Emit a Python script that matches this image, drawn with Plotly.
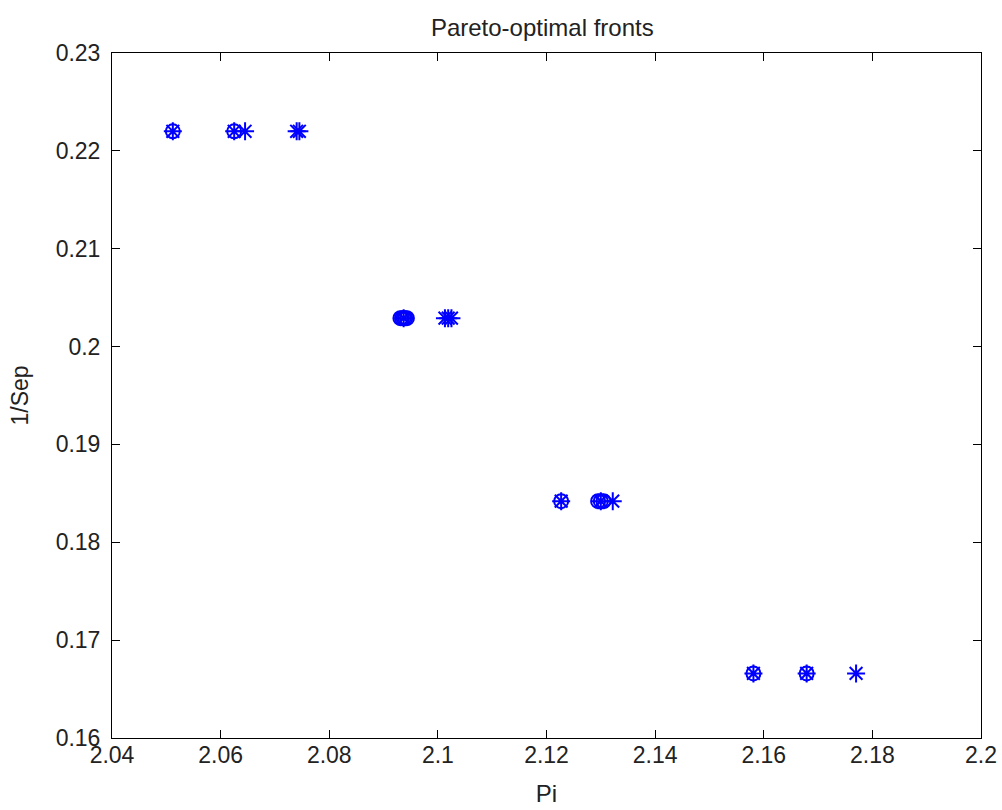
import plotly.graph_objects as go

# Circle-marker points (Pareto fronts, 'o')
circ_x = [2.0512, 2.0625, 2.0931, 2.0934, 2.0937, 2.0940, 2.0943, 2.1227, 2.1295, 2.1300, 2.1305, 2.1581, 2.1679]
circ_y = [0.2220, 0.2220, 0.2029, 0.2029, 0.2029, 0.2029, 0.2029, 0.1842, 0.1842, 0.1842, 0.1842, 0.1666, 0.1666]

# Asterisk-marker points ('*')
star_x = [2.0512, 2.0625, 2.0645, 2.0740, 2.0745, 2.0937, 2.1013, 2.1019, 2.1025, 2.1227, 2.1300, 2.1322, 2.1581, 2.1679, 2.1770]
star_y = [0.2220, 0.2220, 0.2220, 0.2220, 0.2220, 0.2029, 0.2029, 0.2029, 0.2029, 0.1842, 0.1842, 0.1842, 0.1666, 0.1666, 0.1666]

x_ticks = [2.04, 2.06, 2.08, 2.1, 2.12, 2.14, 2.16, 2.18, 2.2]
x_labels = ["2.04", "2.06", "2.08", "2.1", "2.12", "2.14", "2.16", "2.18", "2.2"]
y_ticks = [0.16, 0.17, 0.18, 0.19, 0.2, 0.21, 0.22, 0.23]
y_labels = ["0.16", "0.17", "0.18", "0.19", "0.2", "0.21", "0.22", "0.23"]

FONT = "Liberation Sans, Arial"

fig = go.Figure()
fig.add_trace(go.Scatter(x=circ_x, y=circ_y, mode="markers",
                         marker=dict(symbol="circle-open", size=14, color="#0000ff",
                                     line=dict(width=2, color="#0000ff")),
                         showlegend=False))
fig.add_trace(go.Scatter(x=star_x, y=star_y, mode="markers",
                         marker=dict(symbol="asterisk-open", size=15, color="#0000ff",
                                     line=dict(width=2, color="#0000ff")),
                         showlegend=False))

axis_common = dict(showgrid=False, zeroline=False, showline=True, linecolor="black",
                   linewidth=1, mirror="ticks", ticks="inside", ticklen=8, automargin=False,
                   tickcolor="black", tickfont=dict(family=FONT, size=23, color="#222"))

fig.update_layout(
    width=1002, height=810,
    margin=dict(l=112, r=21, t=53, b=72),
    paper_bgcolor="white", plot_bgcolor="white",
    title=dict(text="Pareto-optimal fronts", x=0.5412, xanchor="center", y=0.966, yanchor="middle",
               font=dict(family=FONT, size=24, color="#222")),
    xaxis=dict(range=[2.04, 2.2], tickvals=x_ticks, ticktext=x_labels, ticklabelstandoff=-4,
               title=dict(text="Pi", font=dict(family=FONT, size=24, color="#222"), standoff=18),
               **axis_common),
    yaxis=dict(range=[0.16, 0.23], tickvals=y_ticks, ticktext=y_labels, ticklabelstandoff=6,
               title=dict(text="1/Sep", font=dict(family=FONT, size=23, color="#222"), standoff=20),
               **axis_common),
)

fig.write_html("out.html")
